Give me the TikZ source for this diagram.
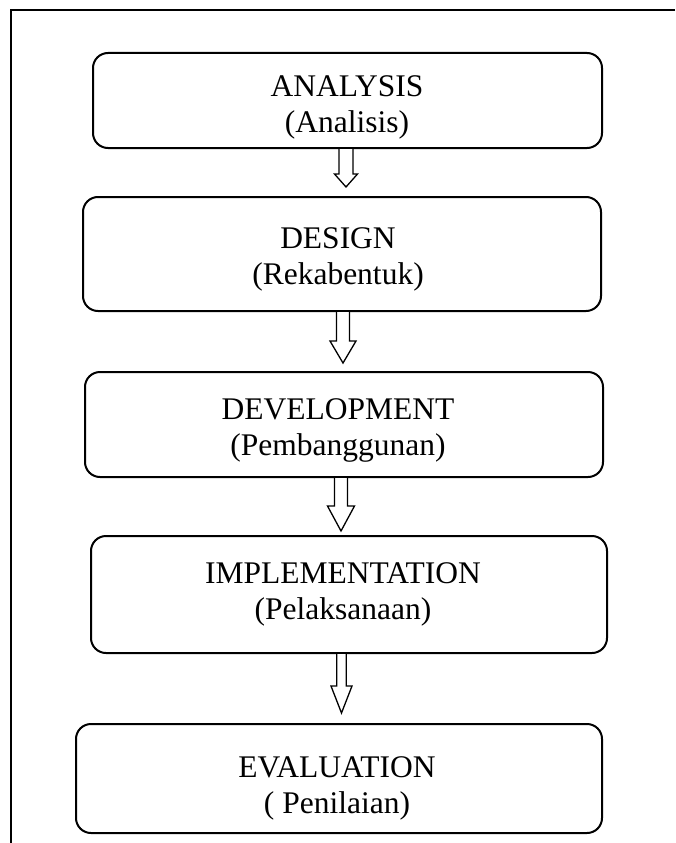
\documentclass[tikz,border=0pt]{standalone}
\usepackage{fontspec}
\setmainfont{Liberation Serif}
\usetikzlibrary{calc}
% hollow block arrow hanging from the bottom of a box:
% #1 box, #2 x offset of the centre line, #3 shaft half-width,
% #4 head half-width, #5 shaft length, #6 head length
\newcommand{\flowarrow}[6]{%
  \draw[blockarrow] ($(#1.south)+(#2+#3,0)$) -- ++(0,#5) -- ++(#4-#3,0)
    -- ++(-#4,#6) coordinate (#1tip) -- ++(-#4,-#6) -- ++(#4-#3,0) -- ++(0,-#5);}
\begin{document}
\begin{tikzpicture}[x=1pt,y=-1pt,
  stagebox/.style={draw,line width=2pt,rounded corners=15pt,inner sep=0pt},
  stagetext/.style={align=center,font=\fontsize{31.5}{36}\selectfont,inner sep=0pt},
  blockarrow/.style={draw,line width=1.3pt,fill=white,line join=miter}]
\useasboundingbox (0,0) rectangle (675,843);
% outer frame: top and left edges only
\draw[line width=2.4pt] (675,10) -- (11,10) -- (11,843);

% stage boxes
\node[stagebox,minimum width=509pt,minimum height=95pt]  (b1) at (347.5,100.5) {};
\node[stagebox,minimum width=518pt,minimum height=114pt] (b2) at (342,254) {};
\node[stagebox,minimum width=518pt,minimum height=105pt] (b3) at (344,424.5) {};
\node[stagebox,minimum width=516pt,minimum height=117pt] (b4) at (349,594.5) {};
\node[stagebox,minimum width=526pt,minimum height=109pt] (b5) at (339,778.5) {};

% stage labels
\node[stagetext] (t1) at (347,107) {ANALYSIS\\(Analisis)};
\node[stagetext] (t2) at (338,259) {DESIGN\\(Rekabentuk)};
\node[stagetext] (t3) at (338,430) {DEVELOPMENT\\(Pembanggunan)};
\node[stagetext] (t4) at (343,594) {IMPLEMENTATION\\(Pelaksanaan)};
\node[stagetext] (t5) at (337,788) {EVALUATION\\( Penilaian)};

% arrows between the stages
\flowarrow{b1}{-1.5}{7}{11.5}{25}{13}
\flowarrow{b2}{1}{6.5}{13}{29}{22}
\flowarrow{b3}{-3}{6.5}{13.5}{28}{25}
\flowarrow{b4}{-7.5}{4.7}{10.5}{32}{27}
\end{tikzpicture}
\end{document}
